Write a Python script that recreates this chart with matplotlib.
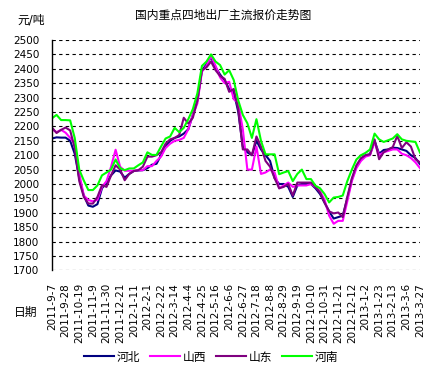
import numpy as np
import matplotlib
matplotlib.use("Agg")
import matplotlib.pyplot as plt

plt.rcParams["font.family"] = ["DejaVu Sans", "Noto Sans CJK SC"]

# weekly quotes, 2011-9-7 .. 2013-3-27 (yuan/ton)
hebei = [2158, 2162, 2161, 2161, 2150, 2105, 2020, 1960, 1925, 1921,
         1930, 1985, 2005, 2030, 2047, 2043, 2022, 2035, 2045, 2047,
         2048, 2055, 2067, 2070, 2100, 2130, 2150, 2160, 2165, 2175,
         2190, 2240, 2290, 2395, 2415, 2440, 2405, 2380, 2360, 2330,
         2320, 2250, 2130, 2110, 2100, 2150, 2120, 2100, 2080, 2020,
         2000, 2000, 1990, 1955, 1995, 2000, 2000, 2000, 1985, 1965,
         1935, 1905, 1880, 1885, 1890, 1950, 2015, 2060, 2085, 2100,
         2103, 2150, 2105, 2118, 2120, 2126, 2125, 2120, 2115, 2100,
         2090, 2069]
shanxi = [2190, 2180, 2188, 2178, 2160, 2140, 2036, 1960, 1944, 1940,
          1945, 1990, 2010, 2060, 2119, 2060, 2046, 2046, 2046, 2048,
          2048, 2062, 2062, 2080, 2095, 2125, 2140, 2150, 2153, 2160,
          2190, 2240, 2280, 2390, 2410, 2445, 2410, 2370, 2350, 2355,
          2295, 2280, 2190, 2050, 2050, 2130, 2035, 2040, 2050, 2040,
          1985, 1995, 2005, 1990, 1995, 1995, 1995, 2000, 1990, 1975,
          1945, 1890, 1862, 1872, 1872, 1940, 2010, 2055, 2080, 2095,
          2100, 2145, 2100, 2110, 2115, 2120, 2120, 2105, 2100, 2090,
          2075, 2055]
shandong = [2196, 2177, 2188, 2196, 2186, 2125, 2010, 1955, 1932, 1932,
            1955, 1996, 1990, 2030, 2065, 2050, 2013, 2035, 2045, 2048,
            2060, 2095, 2095, 2100, 2110, 2140, 2155, 2160, 2170, 2230,
            2210, 2230, 2290, 2395, 2405, 2425, 2395, 2375, 2365, 2320,
            2330, 2260, 2120, 2120, 2100, 2165, 2130, 2080, 2060, 2020,
            1985, 1990, 2000, 1960, 2005, 2005, 2005, 2005, 1990, 1970,
            1935, 1905, 1898, 1901, 1885, 1955, 2020, 2065, 2090, 2100,
            2103, 2155, 2086, 2110, 2120, 2128, 2167, 2125, 2145, 2130,
            2086, 2075]
henan = [2228, 2240, 2222, 2222, 2221, 2160, 2050, 2012, 1979, 1979,
         1995, 2030, 2040, 2050, 2085, 2055, 2048, 2054, 2054, 2065,
         2075, 2110, 2101, 2101, 2130, 2158, 2165, 2195, 2180, 2195,
         2225, 2260, 2315, 2410, 2425, 2450, 2425, 2413, 2380, 2395,
         2361, 2290, 2240, 2211, 2160, 2225, 2150, 2103, 2103, 2103,
         2034, 2040, 2045, 2010, 2035, 2050, 2017, 2017, 1994, 1985,
         1965, 1936, 1953, 1955, 1960, 2010, 2050, 2085, 2100, 2108,
         2120, 2175, 2155, 2146, 2152, 2158, 2173, 2155, 2150, 2148,
         2146, 2109]

date_labels = ["2011-9-7", "2011-9-28", "2011-10-19", "2011-11-9",
               "2011-11-30", "2011-12-21", "2012-1-11", "2012-2-1",
               "2012-2-22", "2012-3-14", "2012-4-4", "2012-4-25",
               "2012-5-16", "2012-6-6", "2012-6-27", "2012-7-18",
               "2012-8-8", "2012-8-29", "2012-9-19", "2012-10-10",
               "2012-10-31", "2012-11-21", "2012-12-12", "2013-1-2",
               "2013-1-23", "2013-2-13", "2013-3-6", "2013-3-27"]

series = [("河北", hebei, "#000080"),
          ("山西", shanxi, "#ff00ff"),
          ("山东", shandong, "#800080"),
          ("河南", henan, "#00ff00")]

fig = plt.figure(figsize=(4.33, 3.70), dpi=100)
ax = fig.add_axes([52 / 433, 1 - 270.4 / 370, 368 / 433, 230.4 / 370])

x = np.arange(len(hebei))
for name, vals, color in series:
    ax.plot(x, vals, color=color, linewidth=1.5, label=name)

ax.set_xlim(0, len(hebei) - 1)
ax.set_ylim(1700, 2500)
ax.set_yticks(np.arange(1700, 2501, 50))
ax.set_xticks(np.arange(0, len(hebei), 3))
ax.set_xticklabels(date_labels, rotation=90, fontsize=7.5)
ax.tick_params(axis="y", length=0, pad=9, labelsize=7.5)
ax.tick_params(axis="x", length=0, pad=9)
ax.yaxis.grid(True, color="black", linestyle=(0, (3, 3)), linewidth=0.8)
ax.set_axisbelow(True)
for side in ["top", "right", "bottom"]:
    ax.spines[side].set_visible(False)
ax.spines["left"].set_linewidth(1.0)

fig.text(223 / 433, 1 - 15 / 370, "国内重点四地出厂主流报价走势图",
         ha="center", va="center", fontsize=8.5)
fig.text(17 / 433, 1 - 20 / 370, "元/吨", ha="left", va="center", fontsize=8.5)
fig.text(14 / 433, 1 - 312 / 370, "日期", ha="left", va="center", fontsize=8.5)

fig.legend(loc="center", bbox_to_anchor=(211 / 433, 1 - 357 / 370), ncol=4,
           frameon=False, fontsize=8.5, handlelength=2.6, handletextpad=0.2,
           columnspacing=0.8)

fig.savefig("out.png", dpi=100)
